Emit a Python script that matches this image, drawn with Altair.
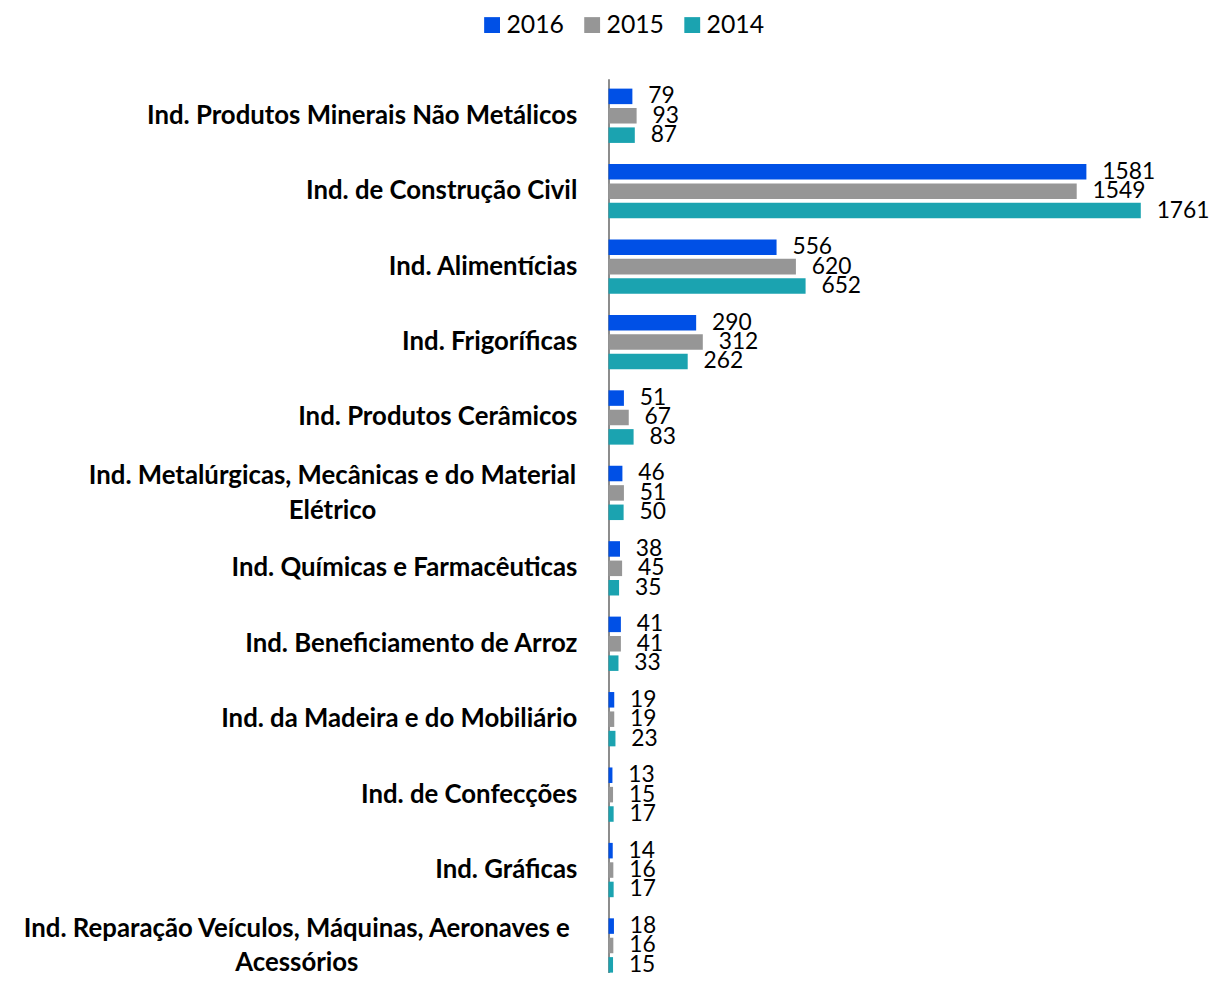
import altair as alt
import pandas as pd

categories = [
    "Ind. Produtos Minerais Não Metálicos",
    "Ind. de Construção Civil",
    "Ind. Alimentícias",
    "Ind. Frigoríficas",
    "Ind. Produtos Cerâmicos",
    "Ind. Metalúrgicas, Mecânicas e do Material\nElétrico",
    "Ind. Químicas e Farmacêuticas",
    "Ind. Beneficiamento de Arroz",
    "Ind. da Madeira e do Mobiliário",
    "Ind. de Confecções",
    "Ind. Gráficas",
    "Ind. Reparação Veículos, Máquinas, Aeronaves e\nAcessórios",
]
years = ["2016", "2015", "2014"]
v2016 = [79, 1581, 556, 290, 51, 46, 38, 41, 19, 13, 14, 18]
v2015 = [93, 1549, 620, 312, 67, 51, 45, 41, 19, 15, 16, 16]
v2014 = [87, 1761, 652, 262, 83, 50, 35, 33, 23, 17, 17, 15]
colors = ["#0050E6", "#969696", "#1BA3B0"]

rows = []
for yr, vals in zip(years, [v2016, v2015, v2014]):
    for c, v in zip(categories, vals):
        rows.append({"cat": c, "year": yr, "value": v})
df = pd.DataFrame(rows)

multi = "indexof(datum.value, '\\n') >= 0"

y = alt.Y(
    "cat:N",
    sort=categories,
    scale=alt.Scale(paddingInner=0.28, paddingOuter=0.065, align=1),
    axis=alt.Axis(
        title=None,
        labelExpr="split(datum.label, '\\n')",
        labelFont="Lato",
        labelFontWeight="bold",
        labelFontSize=26,
        labelColor="black",
        labelLimit=700,
        labelAlign={"condition": {"test": multi, "value": "center"}, "value": "right"},
        labelPadding={
            "condition": [
                {"test": "indexof(datum.value, 'Metal') >= 0", "value": 279},
                {"test": "indexof(datum.value, 'Repara') >= 0", "value": 315},
            ],
            "value": 32,
        },
        labelLineHeight=35,
        labelOffset={"condition": {"test": multi, "value": -17}, "value": 0},
        ticks=False,
        domainColor="#8c8c8c",
        domainWidth=2,
        grid=False,
    ),
)
yoff = alt.YOffset("year:N", sort=years, scale=alt.Scale(paddingInner=0.2, paddingOuter=0))
x = alt.X("value:Q", scale=alt.Scale(domain=[0, 1967], nice=False), axis=None)

base = alt.Chart(df).encode(y=y, yOffset=yoff, x=x)

bars = base.mark_bar().encode(
    color=alt.Color(
        "year:N",
        sort=years,
        scale=alt.Scale(domain=years, range=colors),
        legend=alt.Legend(
            orient="none",
            legendX=-130,
            legendY=-67,
            direction="horizontal",
            title=None,
            symbolType="square",
            symbolSize=256,
            symbolStrokeWidth=0,
            labelFont="Lato",
            labelFontSize=25,
            labelColor="black",
            labelOffset=2,
            columnPadding=15,
        ),
    )
)

labels = base.mark_text(
    align="left", baseline="middle", dx=16, fontSize=23, font="Lato", color="black"
).encode(text="value:Q")

chart = (
    alt.layer(bars, labels)
    .properties(width=600, height=902, padding={"top": 0, "left": 14, "right": 0, "bottom": 0})
    .configure_view(stroke=None)
)

chart.save("out.html", embed_options={"renderer": "svg", "actions": False})
